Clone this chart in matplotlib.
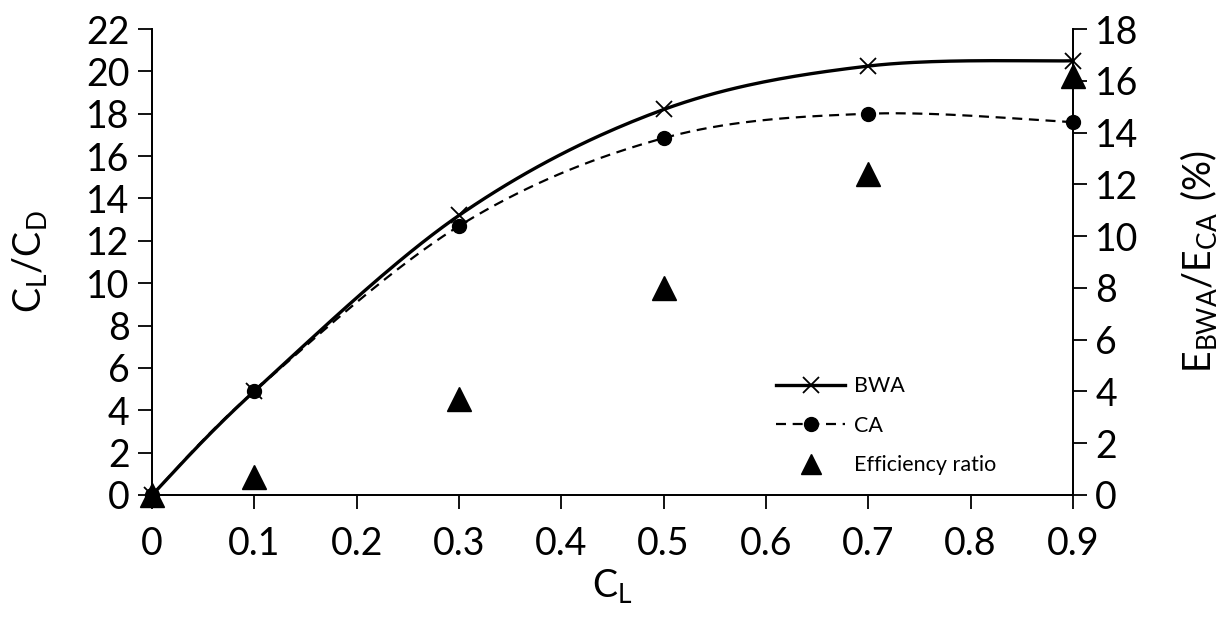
import numpy as np
import matplotlib.pyplot as plt

plt.rcParams['font.family'] = ['Lato', 'DejaVu Sans']
plt.rcParams['mathtext.fontset'] = 'custom'
plt.rcParams['mathtext.rm'] = 'Lato'

cl = [0, 0.1, 0.3, 0.5, 0.7, 0.9]
bwa = [0, 4.9, 13.2, 18.2, 20.25, 20.5]
ca = [0, 4.9, 12.7, 16.85, 18.0, 17.6]
eff = [0, 0.7, 3.7, 8.0, 12.4, 16.2]


def smooth(x, y, sx, sy, n=40):
    # excel-like smoothed line: catmull-rom converted to bezier segments
    p = np.column_stack([np.asarray(x) / sx, np.asarray(y) / sy])
    out = []
    t = np.linspace(0, 1, n)[:, None]
    for i in range(len(p) - 1):
        p0 = p[i - 1] if i > 0 else p[i]
        p3 = p[i + 2] if i + 2 < len(p) else p[i + 1]
        c1 = p[i] + (p[i + 1] - p0) / 6
        c2 = p[i + 1] - (p3 - p[i]) / 6
        seg = ((1 - t) ** 3) * p[i] + 3 * ((1 - t) ** 2) * t * c1 + 3 * (1 - t) * t ** 2 * c2 + t ** 3 * p[i + 1]
        out.append(seg)
    out = np.vstack(out)
    return out[:, 0] * sx, out[:, 1] * sy


fig = plt.figure(figsize=(12.19, 6.21), dpi=100)
ax = fig.add_axes([0.1247, 0.2029, 0.7555, 0.7504])
ax2 = ax.twinx()

sx, sy = 0.9 / 921, 22 / 466
xs, ys = smooth(cl, bwa, sx, sy)
ax.plot(xs, ys, color='black', lw=2.4, clip_on=False)
xs, ys = smooth(cl, ca, sx, sy)
ax.plot(xs, ys, color='black', lw=1.6, ls=(0, (4.5, 3)), clip_on=False)
ax.plot(cl, bwa, ls='none', marker='x', ms=11, mew=1.3, color='black', clip_on=False)
ax.plot(cl, ca, ls='none', marker='o', ms=10, color='black', clip_on=False)
ax2.plot(cl, eff, ls='none', marker='^', ms=17, color='black', clip_on=False, zorder=5)

h1 = plt.Line2D([], [], color='black', lw=2.4, marker='x', ms=11, mew=1.3)
h2 = plt.Line2D([], [], color='black', lw=1.6, ls=(0, (4.5, 3)), marker='o', ms=10)
h3 = plt.Line2D([], [], color='black', ls='none', marker='^', ms=14)
fig.legend([h1, h2, h3], ['BWA', 'CA', 'Efficiency ratio'], loc='upper left',
           bbox_to_anchor=(0.621, 0.425), frameon=False, fontsize=15.5,
           handlelength=3.2, labelspacing=0.9, handletextpad=0.4)

ax.set_xlim(0, 0.9)
ax.set_ylim(0, 22)
ax2.set_ylim(0, 18)
ax.set_xticks(np.arange(0, 0.91, 0.1))
ax.set_xticklabels(['0', '0.1', '0.2', '0.3', '0.4', '0.5', '0.6', '0.7', '0.8', '0.9'])
ax.set_yticks(range(0, 23, 2))
ax2.set_yticks(range(0, 19, 2))

for a in (ax, ax2):
    a.spines['top'].set_visible(False)
    for s in a.spines.values():
        s.set_linewidth(1.3)
    a.tick_params(labelsize=27, length=10, width=1.3, direction='out', pad=6)
ax.tick_params(axis='x', pad=12)

ax.set_xlabel(r'$\mathregular{C_L}$', fontsize=27, labelpad=4)
ax.set_ylabel(r'$\mathregular{C_L/C_D}$', fontsize=27, labelpad=27)
ax2.set_ylabel(r'$\mathregular{E_{BWA}/E_{CA}\ (\%)}$', fontsize=27, labelpad=28)

fig.savefig('out.png', dpi=100)
